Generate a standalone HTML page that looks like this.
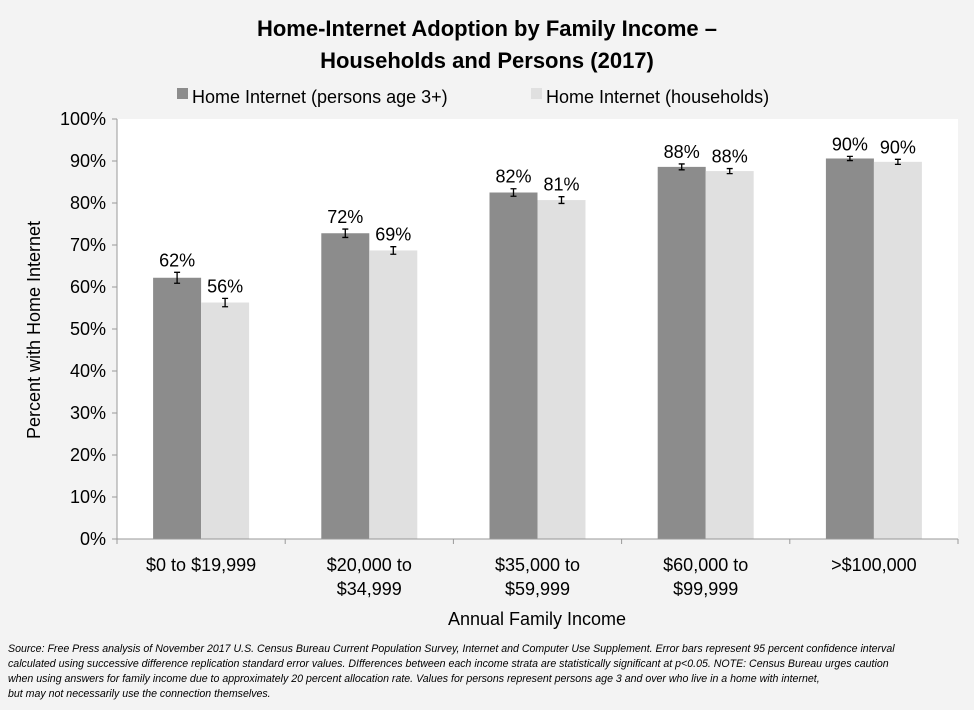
<!DOCTYPE html>
<html><head><meta charset="utf-8"><style>
body{margin:0;background:#f3f3f3;}
svg{display:block;font-family:"Liberation Sans",sans-serif;}
</style></head><body>
<svg id="chart" width="974" height="710" viewBox="0 0 974 710" xmlns="http://www.w3.org/2000/svg">
<rect width="974" height="710" fill="#f3f3f3"/>
<text x="487" y="36" text-anchor="middle" font-size="22" font-weight="bold" fill="#000">Home-Internet Adoption by Family Income –</text>
<text x="487" y="68" text-anchor="middle" font-size="22" font-weight="bold" fill="#000">Households and Persons (2017)</text>
<g>
<rect x="177" y="88" width="11" height="11" fill="#8c8c8c"/>
<text x="192" y="103" font-size="18">Home Internet (persons age 3+)</text>
<rect x="531" y="88" width="11" height="11" fill="#e0e0e0"/>
<text x="546" y="103" font-size="18">Home Internet (households)</text>
</g>
<rect x="117" y="119" width="841" height="420" fill="#fff"/>
<g id="plot"></g>
<text transform="translate(40,330) rotate(-90)" text-anchor="middle" font-size="18">Percent with Home Internet</text>
<text x="537" y="625" text-anchor="middle" font-size="18">Annual Family Income</text>
<g font-size="10.6" font-style="italic" fill="#000">
<text x="8" y="652">Source: Free Press analysis of November 2017 U.S. Census Bureau Current Population Survey, Internet and Computer Use Supplement. Error bars represent 95 percent confidence interval</text>
<text x="8" y="667">calculated using successive difference replication standard error values. DIfferences between each income strata are statistically significant at p&lt;0.05. NOTE: Census Bureau urges caution</text>
<text x="8" y="682">when using answers for family income due to approximately 20 percent allocation rate. Values for persons represent persons age 3 and over who live in a home with internet,</text>
<text x="8" y="697">but may not necessarily use the connection themselves.</text>
</g>
</svg>
<script>
const categories=[["$0 to $19,999"],["$20,000 to","$34,999"],["$35,000 to","$59,999"],["$60,000 to","$99,999"],[">$100,000"]];
const persons=[62.2,72.8,82.5,88.6,90.6];
const households=[56.3,68.7,80.7,87.6,89.8];
const personsErr=[1.3,1.0,0.9,0.7,0.5];
const householdsErr=[1.0,0.9,0.8,0.6,0.6];
const personsLabels=["62%","72%","82%","88%","90%"];
const householdsLabels=["56%","69%","81%","88%","90%"];
const yTicks=[0,10,20,30,40,50,60,70,80,90,100];
const NS="http://www.w3.org/2000/svg";
const g=document.getElementById('plot');
const X0=117,X1=958,Y0=539,Y1=119;
const y=v=>Y0-(v/100)*(Y0-Y1);
const band=(X1-X0)/categories.length;
const cx=i=>X0+band*(i+0.5);
const BW=48;
function mk(t,a){const e=document.createElementNS(NS,t);for(const k in a)e.setAttribute(k,a[k]);g.appendChild(e);return e;}
yTicks.forEach(t=>{
  const l=mk('line',{x1:X0-5,x2:X0,y1:y(t),y2:y(t),stroke:'#999'});
  
  
  const tx=mk('text',{x:X0-11,y:y(t)+6,'text-anchor':'end','font-size':18});
  tx.textContent=t+'%';
  
  
});
categories.forEach((c,i)=>{
  const series=[[persons,personsErr,personsLabels,'#8c8c8c',-BW,'persons'],[households,householdsErr,householdsLabels,'#e0e0e0',0,'households']];
  series.forEach(([vals,err,labs,col,off,nm])=>{
    const v=vals[i],x=cx(i)+off;
    const r=mk('rect',{x:x,y:y(v),width:BW,height:Y0-y(v),fill:col});
    
    
    const ex=x+BW/2,hi=y(v+err[i]),lo=y(v-err[i]);
    const e=mk('path',{d:`M${ex},${hi}V${lo}M${ex-3},${hi}H${ex+3}M${ex-3},${lo}H${ex+3}`,stroke:'#000','stroke-width':1.3,fill:'none'});
    
    
    const t=mk('text',{x:ex,y:hi-6,'text-anchor':'middle','font-size':18});
    t.textContent=labs[i];
    
    
  });
  const tk=mk('line',{x1:X0+band*(i+1),x2:X0+band*(i+1),y1:Y0,y2:Y0+5,stroke:'#999'});
  
  
  c.forEach((ln,j)=>{
    const t=mk('text',{x:cx(i),y:Y0+32+j*24,'text-anchor':'middle','font-size':18});
    t.textContent=ln;
    
    
  });
});
const ax=mk('path',{d:`M${X0},${Y1}V${Y0}H${X1}M${X0},${Y0}V${Y0+5}`,stroke:'#999',fill:'none'});


</script>
</body></html>
